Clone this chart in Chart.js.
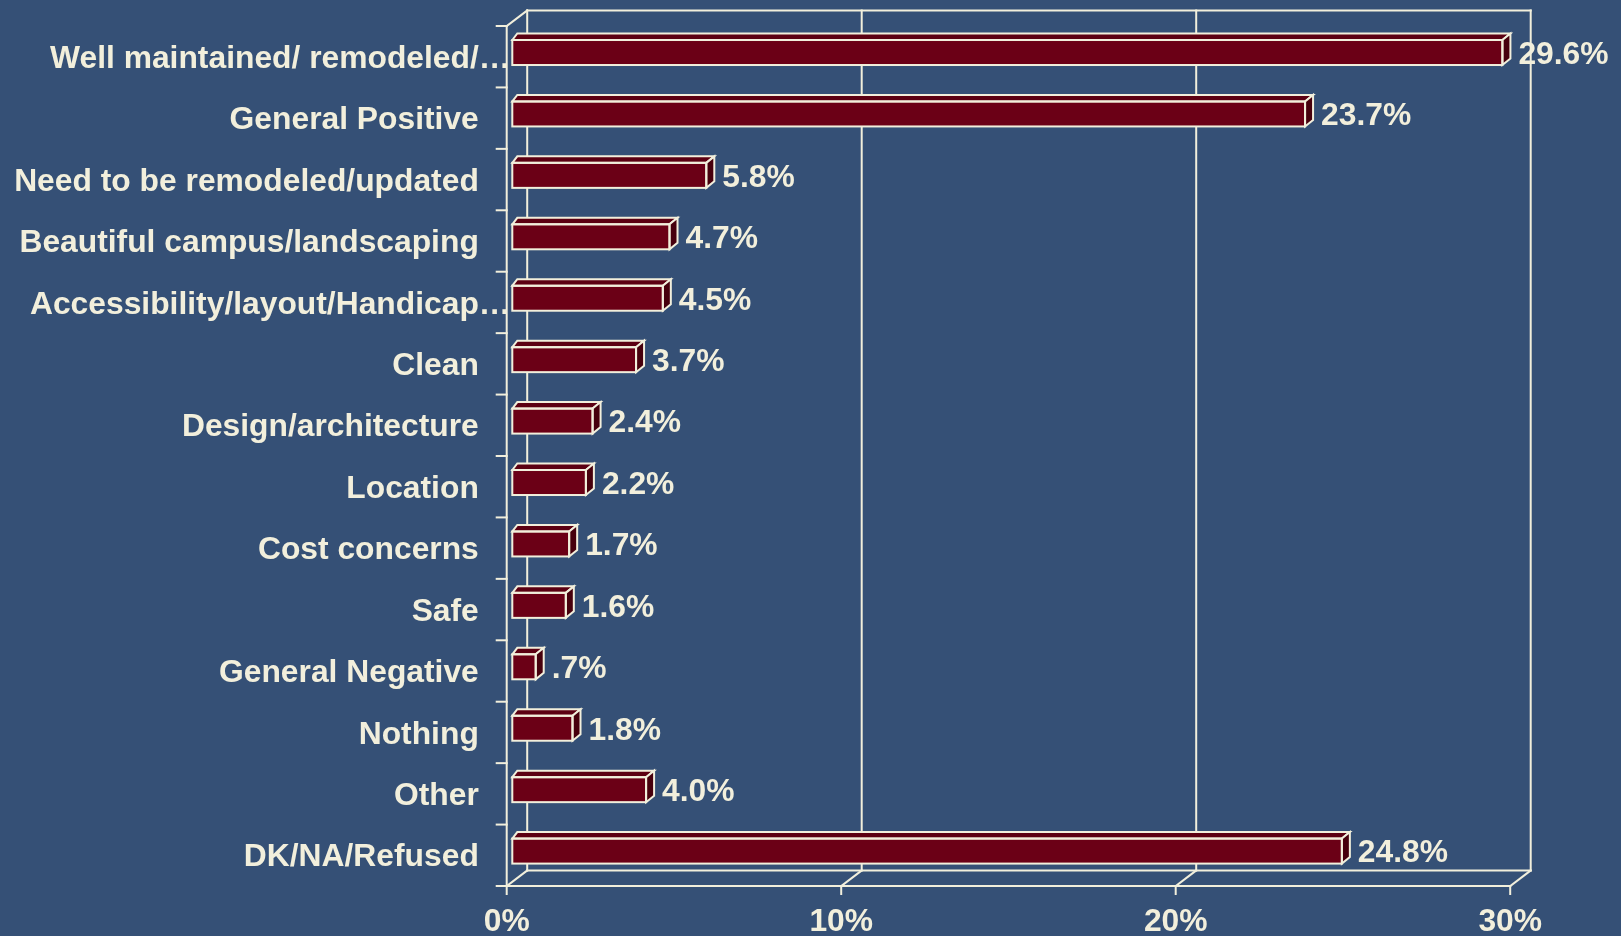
<!DOCTYPE html>
<html>
<head>
<meta charset="utf-8">
<title>Facility impressions</title>
<script src="https://cdn.jsdelivr.net/npm/chart.js@4.4.1/dist/chart.umd.min.js"></script>
<style>
  html, body { margin: 0; padding: 0; background: #355076; }
  #wrap { width: 1621px; height: 936px; position: relative; }
  canvas { display: block; }
</style>
</head>
<body>
<div id="wrap"><canvas id="chart" width="1621" height="936"></canvas></div>
<script>
// Responses (percent of respondents)
const categories = [
  'Well maintained/ remodeled/…',
  'General Positive',
  'Need to be remodeled/updated',
  'Beautiful campus/landscaping',
  'Accessibility/layout/Handicap…',
  'Clean',
  'Design/architecture',
  'Location',
  'Cost concerns',
  'Safe',
  'General Negative',
  'Nothing',
  'Other',
  'DK/NA/Refused'
];
const shares = [29.6, 23.7, 5.8, 4.7, 4.5, 3.7, 2.4, 2.2, 1.7, 1.6, 0.7, 1.8, 4.0, 24.8];
const axisTicks = [0, 10, 20, 30];

// Styling
const INK = '#f2efdc';
const BAR_FRONT = '#6b0016';
const BAR_TOP = '#5c0012';
const BAR_SIDE = '#47000d';
const FAMILY = '"Liberation Sans", Arial, Helvetica, sans-serif';
const FONT_SIZE = 31.8;
const FONT = 'bold ' + FONT_SIZE + 'px ' + FAMILY;

// Pseudo-3D geometry: the bars sit slightly behind the front axis plane
const FRONT_DX = -5.6, FRONT_DY = 4.2;   // bar plane -> front axis plane
const WALL_DX = 20.5, WALL_DY = -15.5;   // front plane -> back wall
const BAR_DX_R = 8, BAR_DX_L = 5, BAR_DY = 6.5; // bar depth
const Y_LABEL_PAD = 33.5;

function fmtShare(v) {
  const s = v.toFixed(1);
  return (v < 1 ? s.replace(/^0/, '') : s) + '%';
}

const frame3d = {
  id: 'frame3d',
  beforeDatasetsDraw(chart) {
    const { ctx, chartArea: ca, scales: { x: xs } } = chart;
    const vmin = axisTicks[0], vmax = axisTicks[axisTicks.length - 1];
    const fx = v => xs.getPixelForValue(v) + FRONT_DX;
    const bx = v => fx(v) + WALL_DX;
    const fTop = ca.top + FRONT_DY, fBot = ca.bottom + FRONT_DY;
    const bTop = fTop + WALL_DY, bBot = fBot + WALL_DY;

    ctx.save();
    ctx.strokeStyle = INK;
    ctx.lineWidth = 2;
    ctx.lineCap = 'square';
    const seg = (x1, y1, x2, y2) => { ctx.beginPath(); ctx.moveTo(x1, y1); ctx.lineTo(x2, y2); ctx.stroke(); };

    // back wall: outline and vertical gridlines
    seg(bx(vmin), bTop, bx(vmax), bTop);
    seg(bx(vmin), bTop, bx(vmin), bBot);
    axisTicks.forEach(v => { if (v > vmin) seg(bx(v), bTop, bx(v), bBot); });
    // floor
    seg(bx(vmin), bBot, bx(vmax), bBot);
    axisTicks.forEach(v => seg(fx(v), fBot, bx(v), bBot));
    seg(fx(vmin), fBot, fx(vmax), fBot);
    axisTicks.forEach(v => seg(fx(v), fBot, fx(v), fBot + 8));
    // front category axis
    seg(fx(vmin), fTop, fx(vmin), fBot);
    seg(fx(vmin), fTop, bx(vmin), bTop);
    const band = (fBot - fTop) / categories.length;
    for (let i = 0; i <= categories.length; i++) {
      const y = fTop + i * band;
      seg(fx(vmin) - 10, y, fx(vmin), y);
    }
    ctx.restore();
  },
  afterDatasetsDraw(chart) {
    const { ctx } = chart;
    const meta = chart.getDatasetMeta(0);
    ctx.save();
    ctx.lineWidth = 2;
    ctx.lineJoin = 'miter';
    ctx.strokeStyle = INK;
    meta.data.forEach((bar, i) => {
      const p = bar.getProps(['x', 'y', 'base', 'height'], true);
      const L = Math.min(p.base, p.x), R = Math.max(p.base, p.x);
      const T = p.y - p.height / 2, B = p.y + p.height / 2;
      // top face
      ctx.beginPath();
      ctx.moveTo(L, T);
      ctx.lineTo(L + BAR_DX_L, T - BAR_DY);
      ctx.lineTo(R + BAR_DX_R, T - BAR_DY);
      ctx.lineTo(R, T);
      ctx.closePath();
      ctx.fillStyle = BAR_TOP;
      ctx.fill();
      ctx.stroke();
      // side face
      ctx.beginPath();
      ctx.moveTo(R, T);
      ctx.lineTo(R + BAR_DX_R, T - BAR_DY);
      ctx.lineTo(R + BAR_DX_R, B - BAR_DY);
      ctx.lineTo(R, B);
      ctx.closePath();
      ctx.fillStyle = BAR_SIDE;
      ctx.fill();
      ctx.stroke();
      // front face outline
      ctx.strokeRect(L, T, R - L, B - T);
      // value label
      ctx.fillStyle = INK;
      ctx.font = FONT;
      ctx.textAlign = 'left';
      ctx.textBaseline = 'middle';
      ctx.fillText(fmtShare(shares[i]), R + 16, p.y + 2.6);
    });
    ctx.restore();
  },
  afterDraw(chart) {
    // truncated category names: the ellipsis runs past the label column
    const { ctx, chartArea: ca, scales: { y: ys } } = chart;
    ctx.save();
    ctx.font = FONT;
    ctx.fillStyle = INK;
    ctx.textAlign = 'left';
    ctx.textBaseline = 'middle';
    categories.forEach((c, i) => {
      if (c.endsWith('…')) {
        ctx.fillText('…', ca.left - Y_LABEL_PAD, ys.getPixelForValue(i) + ys.options.ticks.labelOffset);
      }
    });
    ctx.restore();
  }
};

Chart.defaults.color = INK;
Chart.defaults.font.family = FAMILY;

new Chart(document.getElementById('chart'), {
  type: 'bar',
  data: {
    labels: categories,
    datasets: [{
      data: shares,
      backgroundColor: BAR_FRONT,
      borderWidth: 0,
      barPercentage: 0.407,
      categoryPercentage: 1
    }]
  },
  options: {
    indexAxis: 'y',
    responsive: false,
    animation: false,
    devicePixelRatio: 1,
    layout: { padding: { top: 21.8, right: 105.2, bottom: 0, left: 0 } },
    plugins: { legend: { display: false }, tooltip: { enabled: false } },
    scales: {
      x: {
        type: 'linear',
        min: axisTicks[0],
        max: axisTicks[axisTicks.length - 1],
        grid: { display: false, drawTicks: false },
        border: { display: false },
        afterBuildTicks: s => { s.ticks = axisTicks.map(v => ({ value: v })); },
        afterFit: s => { s.height = 54.2; s.paddingLeft = 0; s.paddingRight = 0; },
        ticks: {
          color: INK,
          font: { size: FONT_SIZE, weight: 'bold' },
          padding: 21,
          labelOffset: FRONT_DX,
          maxRotation: 0,
          autoSkip: false,
          callback: v => v + '%'
        }
      },
      y: {
        grid: { display: false, drawTicks: false },
        border: { display: false },
        afterFit: s => { s.width = 512.3; s.paddingTop = 0; s.paddingBottom = 0; },
        ticks: {
          color: INK,
          font: { size: FONT_SIZE, weight: 'bold' },
          padding: Y_LABEL_PAD,
          labelOffset: 6.5,
          autoSkip: false,
          callback: function (v) { return this.getLabelForValue(v).replace(/…$/, ''); }
        }
      }
    }
  },
  plugins: [frame3d]
});
</script>
</body>
</html>
